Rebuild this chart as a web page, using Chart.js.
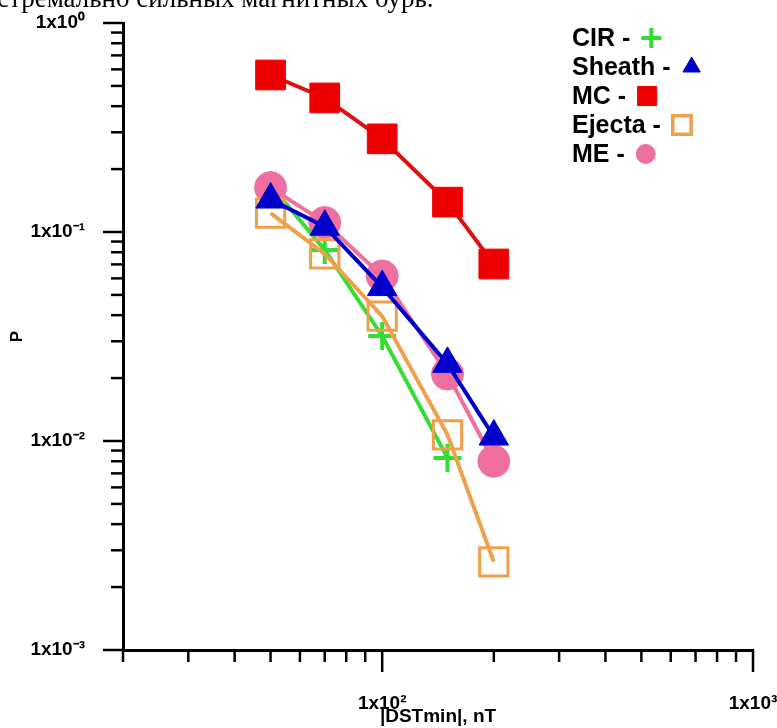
<!DOCTYPE html>
<html>
<head>
<meta charset="utf-8">
<script src="https://cdn.jsdelivr.net/npm/chart.js@4.4.0/dist/chart.umd.min.js"></script>
<style>
  html, body { margin: 0; padding: 0; background: #fff; }
  #wrap { position: relative; width: 777px; height: 728px; overflow: hidden; }
  #caption { position: absolute; left: -27px; top: -15px; font-family: "Liberation Serif"; font-size: 27px; line-height: 1; white-space: nowrap; color: #000; }
  #chart { position: absolute; left: 0; top: 0; }
</style>
</head>
<body>
<div id="wrap">
  <canvas id="chart" width="777" height="728"></canvas>
  <div id="caption">экстремально сильных магнитных бурь.</div>
</div>
<script>
// |DSTmin| values (nT) and probabilities P
const dstAll = [50, 70, 100, 150, 200];
const dstCir = [50, 70, 100, 150];
const pCir = [0.168, 0.082, 0.0318, 0.0083];
const pSheath = [0.143, 0.106, 0.0545, 0.0234, 0.0105];
const pMc = [0.564, 0.438, 0.279, 0.139, 0.0703];
const pEjecta = [0.123, 0.0785, 0.0396, 0.0107, 0.00264];
const pMe = [0.163, 0.111, 0.0616, 0.0209, 0.008];

const seriesNames = ["CIR", "Sheath", "MC", "Ejecta", "ME"];

const xMajorTicks = [100, 1000];
const xTickLabels = ["1x10²", "1x10³"];
const yMajorTicks = [0.001, 0.01, 0.1, 1];
const yTickLabels = ["1x10⁻³", "1x10⁻²", "1x10⁻¹", "1x10⁰"];

const FONT = "Liberation Sans";

function toPoints(xs, ys) {
    return xs.map((x, i) => ({ x: x, y: ys[i] }));
}

// minor ticks 2..9 inside each decade, plus the majors
function logTicks(min, max) {
    const out = [];
    for (let d = Math.pow(10, Math.floor(Math.log10(min))); d <= max; d *= 10) {
        for (let k = 1; k <= 9; k++) {
            const v = parseFloat((k * d).toPrecision(6));
            if (v >= min && v <= max) out.push(v);
        }
    }
    return out;
}

const axisTicks = {
    id: "axisTicks",
    afterDraw(chart) {
        const { ctx, chartArea, scales } = chart;
        ctx.save();
        ctx.strokeStyle = "#000";
        ctx.lineWidth = 2.5;
        scales.x.ticks.forEach((t) => {
            const px = scales.x.getPixelForValue(t.value);
            const len = xMajorTicks.includes(t.value) ? 22 : 12;
            ctx.beginPath();
            ctx.moveTo(px, chartArea.bottom);
            ctx.lineTo(px, chartArea.bottom + len);
            ctx.stroke();
        });
        scales.y.ticks.forEach((t) => {
            const py = scales.y.getPixelForValue(t.value);
            const len = yMajorTicks.includes(t.value) ? 20 : 12;
            ctx.beginPath();
            ctx.moveTo(chartArea.left, py);
            ctx.lineTo(chartArea.left - len, py);
            ctx.stroke();
        });
        ctx.restore();
    },
};

// legend: "name -" followed by the marker, top right
const sideLegend = {
    id: "sideLegend",
    afterDraw(chart) {
        const ctx = chart.ctx;
        const radii = [10, 10, 13.5, 13, 9.5];
        ctx.save();
        ctx.font = "bold 25px " + FONT;
        ctx.textBaseline = "middle";
        ctx.textAlign = "left";
        chart.data.datasets.forEach((ds, i) => {
            const y = 38 + i * 29;
            const label = ds.label + " -";
            ctx.fillStyle = "#000";
            ctx.fillText(label, 572, y + 1);
            const mx = 572 + ctx.measureText(label).width + 21;
            ctx.fillStyle = ds.pointBackgroundColor;
            ctx.strokeStyle = ds.pointBorderColor;
            ctx.lineWidth = ds.legendBorder;
            Chart.helpers.drawPoint(ctx, {
                pointStyle: ds.pointStyle,
                radius: radii[i],
                rotation: 0,
                borderWidth: ds.legendBorder,
            }, mx, y);
        });
        ctx.restore();
    },
};

const ctx = document.getElementById("chart").getContext("2d");

new Chart(ctx, {
    type: "line",
    data: {
        datasets: [
            {
                label: seriesNames[0],
                data: toPoints(dstCir, pCir),
                borderColor: "#33dd33",
                borderWidth: 4,
                pointStyle: "cross",
                pointRadius: 14,
                pointBorderWidth: 4,
                pointBorderColor: "#33dd33",
                pointBackgroundColor: "#33dd33",
                legendBorder: 4,
                order: 4,
            },
            {
                label: seriesNames[1],
                data: toPoints(dstAll, pSheath),
                borderColor: "#0000cc",
                borderWidth: 4,
                pointStyle: "triangle",
                pointRadius: 17,
                pointBorderWidth: 1,
                pointBorderColor: "#0000cc",
                pointBackgroundColor: "#0000cc",
                legendBorder: 1,
                order: 1,
            },
            {
                label: seriesNames[2],
                data: toPoints(dstAll, pMc),
                borderColor: "#dd1111",
                borderWidth: 4,
                pointStyle: "rect",
                pointRadius: 21,
                pointBorderWidth: 1,
                pointBorderColor: "#ee0000",
                pointBackgroundColor: "#ee0000",
                legendBorder: 1,
                order: 5,
            },
            {
                label: seriesNames[3],
                data: toPoints(dstAll, pEjecta),
                borderColor: "#f0a04b",
                borderWidth: 4,
                pointStyle: "rect",
                pointRadius: 20,
                pointBorderWidth: 3,
                pointBorderColor: "#f0a04b",
                pointBackgroundColor: "rgba(0,0,0,0)",
                legendBorder: 3.5,
                order: 2,
            },
            {
                label: seriesNames[4],
                data: toPoints(dstAll, pMe),
                borderColor: "#ee6fa0",
                borderWidth: 4,
                pointStyle: "circle",
                pointRadius: 16,
                pointBorderWidth: 1,
                pointBorderColor: "#ee6fa0",
                pointBackgroundColor: "#ee6fa0",
                legendBorder: 1,
                order: 3,
            },
        ],
    },
    options: {
        responsive: false,
        animation: false,
        devicePixelRatio: 1,
        layout: { padding: { top: 22, right: 24, left: 0, bottom: 0 } },
        plugins: {
            legend: { display: false },
            tooltip: { enabled: false },
        },
        scales: {
            x: {
                type: "logarithmic",
                min: 20,
                max: 1000,
                grid: { display: false },
                border: { display: true, color: "#000", width: 3 },
                afterBuildTicks: (s) => {
                    s.ticks = logTicks(20, 1000).map((v) => ({ value: v }));
                },
                afterFit: (s) => {
                    s.height = 78;
                    s.paddingLeft = 0;
                    s.paddingRight = 0;
                },
                ticks: {
                    autoSkip: false,
                    maxRotation: 0,
                    padding: 34,
                    color: "#000",
                    font: { family: FONT, size: 19, weight: "bold" },
                    callback: (v) => {
                        const i = xMajorTicks.indexOf(v);
                        return i >= 0 ? xTickLabels[i] : "";
                    },
                },
                title: {
                    display: true,
                    text: "|DSTmin|, nT",
                    color: "#000",
                    font: { family: FONT, size: 19, weight: "bold" },
                    padding: { top: 0, bottom: 0 },
                },
            },
            y: {
                type: "logarithmic",
                min: 0.001,
                max: 1,
                grid: { display: false },
                border: { display: true, color: "#000", width: 3 },
                afterBuildTicks: (s) => {
                    s.ticks = logTicks(0.001, 1).map((v) => ({ value: v }));
                },
                afterFit: (s) => {
                    s.width = 123;
                    s.paddingTop = 0;
                    s.paddingBottom = 0;
                },
                ticks: {
                    autoSkip: false,
                    padding: 30,
                    color: "#000",
                    font: { family: FONT, size: 19, weight: "bold" },
                    callback: (v) => {
                        const i = yMajorTicks.indexOf(v);
                        return i >= 0 ? yTickLabels[i] : "";
                    },
                },
                title: {
                    display: true,
                    text: "P",
                    color: "#000",
                    font: { family: FONT, size: 17, weight: "bold" },
                    padding: { top: 7, bottom: 0 },
                },
            },
        },
    },
    plugins: [axisTicks, sideLegend],
});
</script>
</body>
</html>
